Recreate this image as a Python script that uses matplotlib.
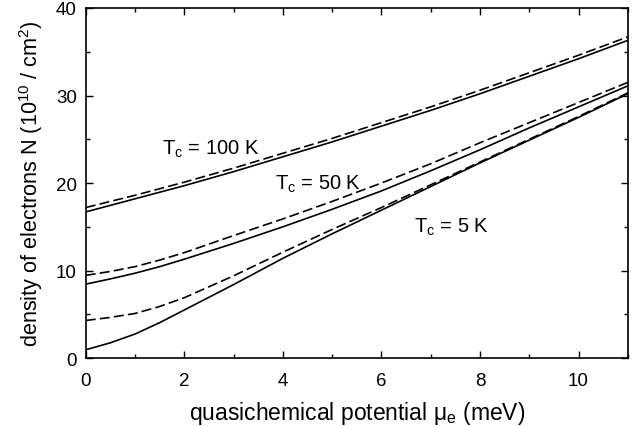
import matplotlib
matplotlib.use("Agg")
import matplotlib.pyplot as plt
from matplotlib.ticker import MultipleLocator

plt.rcParams["font.family"] = ["Liberation Sans", "DejaVu Sans"]
plt.rcParams["mathtext.fontset"] = "custom"
plt.rcParams["mathtext.rm"] = "Liberation Sans"
plt.rcParams["mathtext.it"] = "Liberation Sans"

# chemical potential (meV)
mu = [0, 0.5, 1, 1.5, 2, 3, 4, 5, 6, 7, 8, 9, 10, 11]

# density N (1e10 / cm^2), solid and dashed curves per temperature
n100_solid = [16.7, 17.45, 18.2, 18.95, 19.7, 21.3, 23.0, 24.7, 26.5, 28.3, 30.2, 32.2, 34.2, 36.3]
n100_dash = [17.2, 17.9, 18.6, 19.35, 20.1, 21.7, 23.4, 25.1, 26.9, 28.7, 30.6, 32.6, 34.6, 36.7]
n50_solid = [8.45, 9.05, 9.7, 10.45, 11.3, 13.1, 15.0, 17.0, 19.1, 21.4, 23.8, 26.3, 28.7, 31.1]
n50_dash = [9.45, 9.9, 10.45, 11.2, 12.05, 14.0, 15.9, 17.9, 20.0, 22.2, 24.6, 26.9, 29.2, 31.5]
n5_solid = [0.95, 1.75, 2.75, 4.05, 5.5, 8.4, 11.4, 14.2, 16.9, 19.6, 22.3, 24.9, 27.5, 30.2]
n5_dash = [4.3, 4.65, 5.1, 5.9, 6.9, 9.4, 12.1, 14.7, 17.2, 19.8, 22.4, 25.0, 27.6, 30.3]

labels = ["T$_\\mathregular{c}$ = 100 K", "T$_\\mathregular{c}$ = 50 K", "T$_\\mathregular{c}$ = 5 K"]
label_pos = [(1.54, 23.3), (3.84, 19.3), (6.66, 14.4)]

fig = plt.figure(figsize=(6.4, 4.27), dpi=100)
ax = fig.add_axes([0.134, 0.159, 0.847, 0.82])

for solid, dash in [(n100_solid, n100_dash), (n50_solid, n50_dash), (n5_solid, n5_dash)]:
    ax.plot(mu, solid, color="black", lw=1.2)
    ax.plot(mu, dash, color="black", lw=1.2, dashes=(6, 2.5))

for text, (x, y) in zip(labels, label_pos):
    ax.text(x, y, text, fontsize=14.5, va="baseline", ha="left")

ax.set_xlim(0, 11)
ax.set_ylim(0, 40)
ax.xaxis.set_major_locator(MultipleLocator(2))
ax.xaxis.set_minor_locator(MultipleLocator(1))
ax.yaxis.set_major_locator(MultipleLocator(10))
ax.yaxis.set_minor_locator(MultipleLocator(5))
ax.tick_params(which="both", direction="in", top=True, right=True, width=1.0)
ax.tick_params(which="major", length=5, labelsize=13.5)
ax.tick_params(which="minor", length=3)
ax.tick_params(axis="x", which="major", pad=10)
ax.tick_params(axis="y", which="major", pad=6.5)
for sp in ax.spines.values():
    sp.set_linewidth(1.2)

ax.set_xlabel("quasichemical potential \u03bc$_\\mathregular{e}$ (meV)", fontsize=16.5, labelpad=7)
ax.set_ylabel("density of electrons N (10$^{\\mathregular{10}}$ / cm$^\\mathregular{2}$)", fontsize=15.6, labelpad=8)

fig.savefig("out.png", dpi=100)
